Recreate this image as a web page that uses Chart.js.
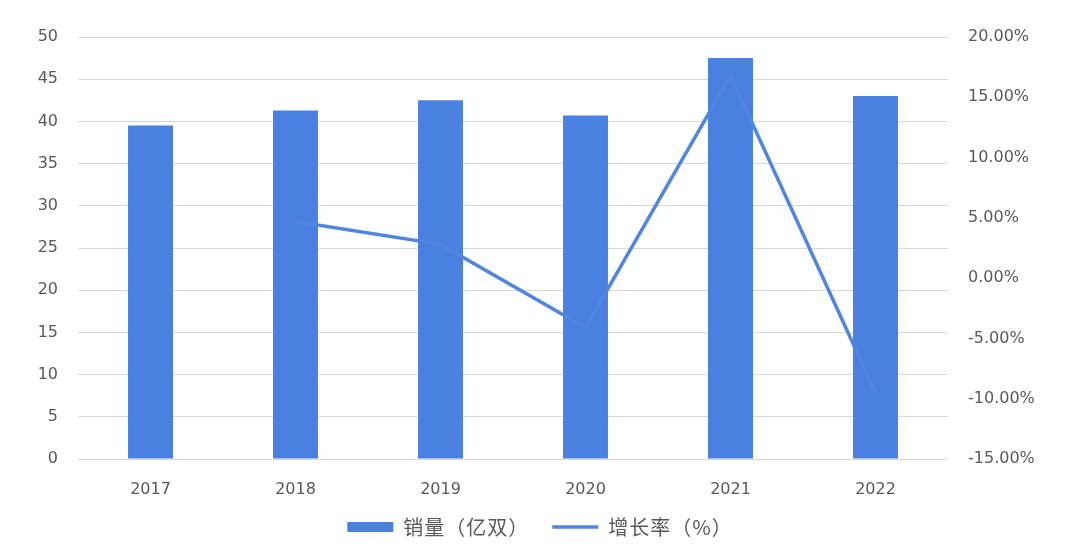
<!DOCTYPE html>
<html>
<head>
<meta charset="utf-8">
<script src="https://cdn.jsdelivr.net/npm/chart.js@4/dist/chart.umd.min.js"></script>
<style>
  html, body { margin: 0; padding: 0; background: #fff; }
  #wrap { width: 1080px; height: 559px; }
</style>
</head>
<body>
<div id="wrap"><canvas id="salesChart"></canvas></div>
<script>
// data
const years = ['2017', '2018', '2019', '2020', '2021', '2022'];
const sales = [39.5, 41.3, 42.5, 40.7, 47.5, 43.0];      // 销量（亿双）
const growth = [null, 4.7, 2.8, -4.1, 16.8, -9.5];       // 增长率（%）

const barColor = '#4a80e0';
const lineColor = '#5086e0';
const tickColor = '#595959';

// give the legend text a bit of letter spacing (CJK parens come out narrow otherwise)
const spacedLegend = {
    id: 'spacedLegend',
    beforeLayout(chart) {
        const legend = chart.legend;
        if (!legend || legend._spaced) return;
        const fit = legend.fit, draw = legend.draw;
        legend.fit = function() {
            this.ctx.save();
            this.ctx.letterSpacing = '1px';
            fit.call(this);
            this.ctx.restore();
        };
        legend.draw = function() {
            this.ctx.save();
            this.ctx.letterSpacing = '1px';
            draw.call(this);
            this.ctx.restore();
        };
        legend._spaced = true;
    }
};

const ctx = document.getElementById('salesChart').getContext('2d');

const salesChart = new Chart(ctx, {
    type: 'bar',
    data: {
        labels: years,
        datasets: [{
            label: '销量（亿双）\u2005',
            data: sales,
            backgroundColor: barColor,
            borderWidth: 0,
            barPercentage: 1,
            categoryPercentage: 0.31,
            pointStyle: 'rect',
            yAxisID: 'y',
            order: 1
        }, {
            type: 'line',
            label: '增长率（%）',
            data: growth,
            borderColor: lineColor,
            backgroundColor: lineColor,
            borderWidth: 3.5,
            pointRadius: 0,
            pointStyle: 'line',
            tension: 0,
            yAxisID: 'y1',
            order: 0
        }]
    },
    plugins: [spacedLegend],
    options: {
        responsive: true,
        maintainAspectRatio: false,
        animation: false,
        layout: {
            padding: { top: 37, bottom: 12, left: 0, right: 0 }
        },
        plugins: {
            tooltip: { enabled: false },
            legend: {
                position: 'bottom',
                labels: {
                    usePointStyle: true,
                    pointStyleWidth: 46,
                    boxHeight: 10,
                    padding: 17,
                    color: tickColor,
                    font: { family: '"Noto Sans CJK SC", "DejaVu Sans", sans-serif', size: 20 },
                    sort: (a, b) => a.datasetIndex - b.datasetIndex
                }
            }
        },
        scales: {
            x: {
                grid: { display: false, drawTicks: false },
                border: { display: false },
                ticks: {
                    color: tickColor,
                    padding: 21.5,
                    font: { family: '"DejaVu Sans", sans-serif', size: 16 }
                },
                afterFit: s => { s.height = 41; }
            },
            y: {
                position: 'left',
                min: 0,
                max: 50,
                grid: { color: '#d9d9d9', lineWidth: 1, drawTicks: false },
                border: { display: false },
                ticks: {
                    stepSize: 5,
                    color: tickColor,
                    padding: 20,
                    font: { family: '"DejaVu Sans", sans-serif', size: 16 }
                },
                afterFit: s => { s.width = 78; }
            },
            y1: {
                position: 'right',
                min: -15,
                max: 20,
                grid: { display: false, drawTicks: false },
                border: { display: false },
                ticks: {
                    stepSize: 5,
                    color: tickColor,
                    padding: 20,
                    font: { family: '"DejaVu Sans", sans-serif', size: 16 },
                    callback: v => v.toFixed(2) + '%'
                },
                afterFit: s => { s.width = 132; }
            }
        }
    }
});
</script>
</body>
</html>
